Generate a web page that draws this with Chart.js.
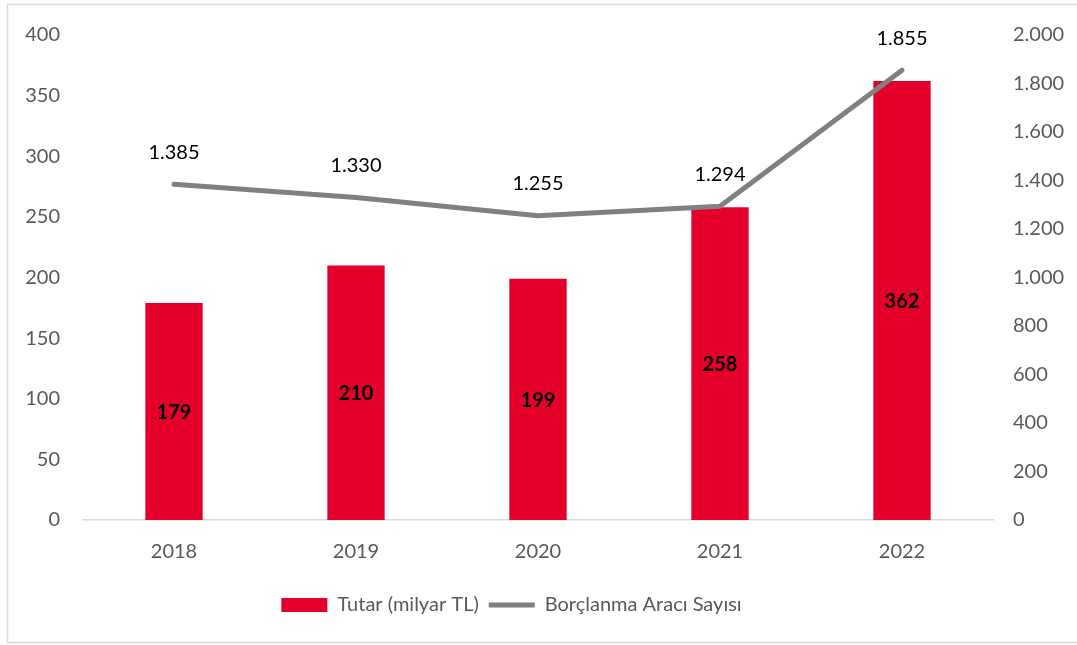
<!DOCTYPE html>
<html>
<head>
<meta charset="utf-8">
<script src="https://cdn.jsdelivr.net/npm/chart.js@4.4.1/dist/chart.umd.min.js"></script>
<style>
  html, body { margin: 0; padding: 0; background: #ffffff; }
  #wrap { width: 1077px; height: 645px; position: relative; }
</style>
</head>
<body>
<div id="wrap"><canvas id="c" width="1077" height="645"></canvas></div>
<script>
const categories = ['2018', '2019', '2020', '2021', '2022'];
const tutarValues = [179, 210, 199, 258, 362];
const aracSayisiValues = [1385, 1330, 1255, 1294, 1855];
const seriesNames = ['Tutar (milyar TL)', 'Borçlanma Aracı Sayısı'];
const leftTicks = [0, 50, 100, 150, 200, 250, 300, 350, 400];
const rightTicks = [0, 200, 400, 600, 800, 1000, 1200, 1400, 1600, 1800, 2000];

const FONT = 'Lato, "Open Sans", sans-serif';
const TICK_COLOR = '#595959';

function fmt(n) {
  return String(n).replace(/\B(?=(\d{3})+(?!\d))/g, '.');
}

const borderPlugin = {
  id: 'outerBorder',
  afterLayout(chart) {
    if (chart.legend) {
      chart.legend.left -= 27;
      chart.legend.right -= 27;
    }
  },
  beforeDraw(chart) {
    const ctx = chart.ctx;
    ctx.save();
    ctx.fillStyle = '#ffffff';
    ctx.fillRect(0, 0, chart.width, chart.height);
    ctx.strokeStyle = '#d9d9d9';
    ctx.lineWidth = 1.5;
    ctx.strokeRect(7.5, 4.5, chart.width + 10, 638);
    ctx.restore();
  }
};

const labelPlugin = {
  id: 'valueLabels',
  afterDatasetsDraw(chart) {
    const ctx = chart.ctx;
    ctx.save();
    ctx.textAlign = 'center';
    ctx.textBaseline = 'middle';
    const barMeta = chart.getDatasetMeta(0);
    ctx.font = 'bold 20px ' + FONT;
    ctx.fillStyle = '#000000';
    barMeta.data.forEach((el, i) => {
      const p = el.getProps(['x', 'y', 'base'], true);
      ctx.fillText(String(tutarValues[i]), p.x, (p.y + p.base) / 2 + 1);
    });
    const lineMeta = chart.getDatasetMeta(1);
    ctx.font = '20px ' + FONT;
    lineMeta.data.forEach((el, i) => {
      const p = el.getProps(['x', 'y'], true);
      ctx.fillText(fmt(aracSayisiValues[i]), p.x, p.y - 32);
    });
    ctx.restore();
  }
};

new Chart(document.getElementById('c'), {
  type: 'bar',
  data: {
    labels: categories,
    datasets: [
      {
        type: 'bar',
        label: seriesNames[0],
        data: tutarValues,
        backgroundColor: '#E4002B',
        borderWidth: 0,
        yAxisID: 'y',
        order: 1,
        barPercentage: 0.315,
        categoryPercentage: 1.0,
        pointStyle: 'rect'
      },
      {
        type: 'line',
        label: seriesNames[1],
        data: aracSayisiValues,
        borderColor: '#808080',
        backgroundColor: '#808080',
        borderWidth: 5,
        borderCapStyle: 'round',
        borderJoinStyle: 'round',
        pointRadius: 0,
        pointHoverRadius: 0,
        pointStyle: 'line',
        tension: 0,
        yAxisID: 'y1',
        order: 0
      }
    ]
  },
  options: {
    responsive: false,
    animation: false,
    devicePixelRatio: 1,
    layout: { padding: { left: 0, right: 0, top: 33, bottom: 20 } },
    plugins: {
      tooltip: { enabled: false },
      legend: {
        position: 'bottom',
        labels: {
          usePointStyle: true,
          pointStyleWidth: 46,
          boxHeight: 14,
          padding: 10,
          color: TICK_COLOR,
          font: { family: FONT, size: 20 },
          sort: (a, b) => a.datasetIndex - b.datasetIndex
        }
      }
    },
    scales: {
      x: {
        grid: { display: false, drawTicks: false },
        border: { display: true, color: '#d9d9d9', width: 1.5 },
        ticks: { color: TICK_COLOR, font: { family: FONT, size: 20 }, padding: 20 },
        afterFit(scale) { scale.height = 65; }
      },
      y: {
        position: 'left',
        min: 0,
        max: 400,
        afterBuildTicks(scale) { scale.ticks = leftTicks.map(v => ({ value: v })); },
        grid: { display: false, drawTicks: false },
        border: { display: false },
        ticks: { color: TICK_COLOR, font: { family: FONT, size: 20 }, padding: 23 },
        afterFit(scale) { scale.width = 83; }
      },
      y1: {
        position: 'right',
        min: 0,
        max: 2000,
        afterBuildTicks(scale) { scale.ticks = rightTicks.map(v => ({ value: v })); },
        grid: { display: false, drawTicks: false },
        border: { display: false },
        ticks: {
          color: TICK_COLOR,
          font: { family: FONT, size: 20 },
          padding: 20,
          callback: (v) => fmt(v)
        },
        afterFit(scale) { scale.width = 84; }
      }
    }
  },
  plugins: [borderPlugin, labelPlugin]
});
</script>
</body>
</html>
